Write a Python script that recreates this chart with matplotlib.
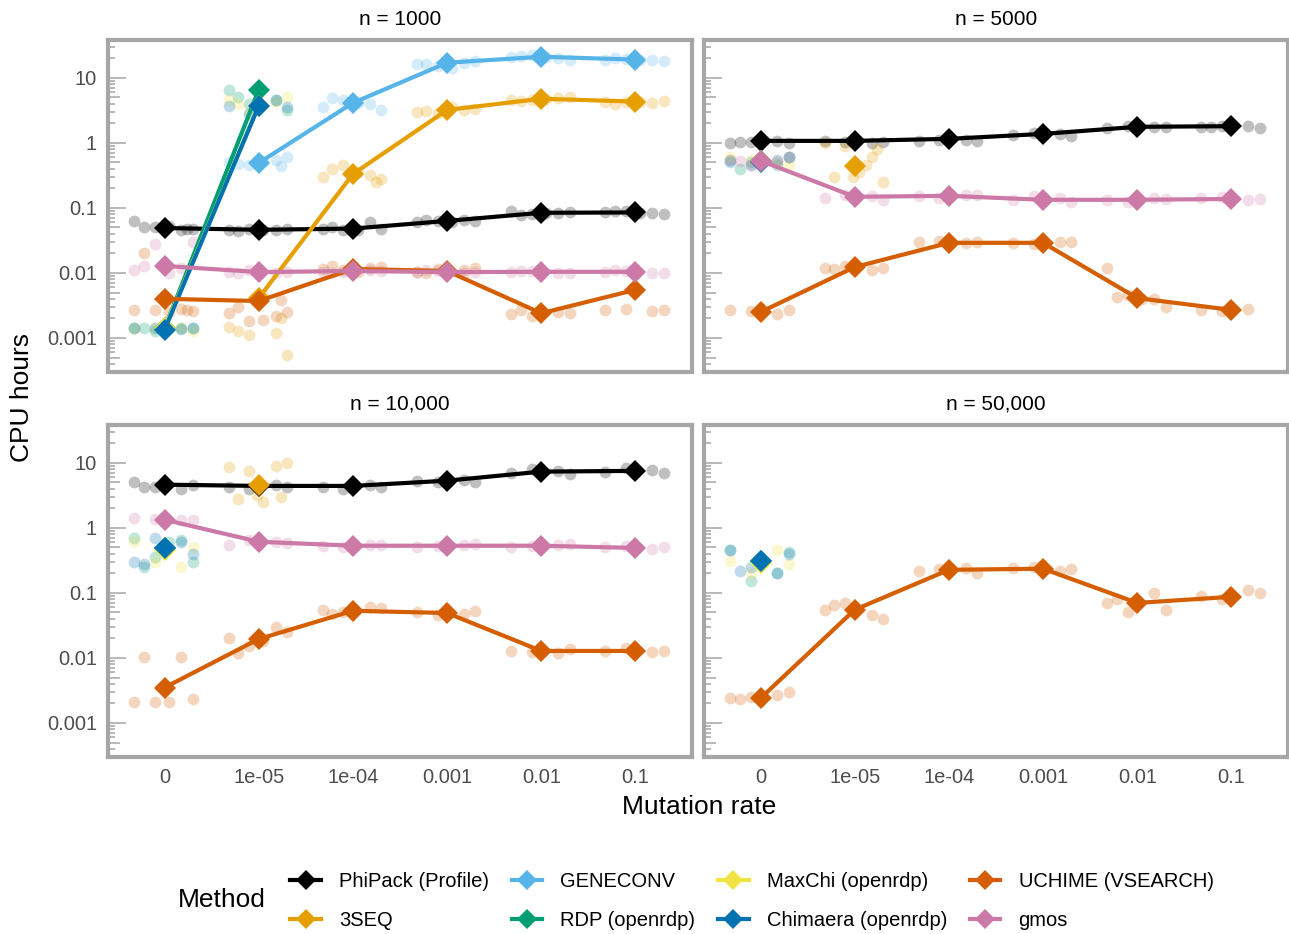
import matplotlib
matplotlib.use('Agg')
import matplotlib.pyplot as plt
from matplotlib.lines import Line2D
import numpy as np

plt.rcParams['font.family'] = ['Liberation Sans', 'DejaVu Sans']

RATES = ['0', '1e-05', '1e-04', '0.001', '0.01', '0.1']
METHODS = ['PhiPack (Profile)', '3SEQ', 'GENECONV', 'RDP (openrdp)',
           'MaxChi (openrdp)', 'Chimaera (openrdp)', 'UCHIME (VSEARCH)', 'gmos']
COLORS = ['#000000', '#E69F00', '#56B4E9', '#009E73',
          '#F0E442', '#0072B2', '#D55E00', '#CC79A7']
PANELS = ['n = 1000', 'n = 5000', 'n = 10,000', 'n = 50,000']

# medians (diamonds), one list of 6 per method, None = not run
MED_1000 = {
    'PhiPack (Profile)': [0.049, 0.046, 0.048, 0.063, 0.084, 0.085],
    '3SEQ': [None, 0.0041, 0.33, 3.2, 4.75, 4.3],
    'GENECONV': [None, 0.49, 4.1, 17, 21, 19],
    'RDP (openrdp)': [0.0014, 6.5, None, None, None, None],
    'MaxChi (openrdp)': [0.0014, 3.7, None, None, None, None],
    'Chimaera (openrdp)': [0.00133, 3.7, None, None, None, None],
    'UCHIME (VSEARCH)': [0.0040, 0.0037, 0.0115, 0.0107, 0.0024, 0.0055],
    'gmos': [0.0128, 0.0103, 0.0107, 0.0103, 0.0104, 0.0104],
}
MED_5000 = {
    'PhiPack (Profile)': [1.07, 1.07, 1.15, 1.37, 1.76, 1.8],
    '3SEQ': [None, 0.44, None, None, None, None],
    'RDP (openrdp)': [0.52, None, None, None, None, None],
    'MaxChi (openrdp)': [0.52, None, None, None, None, None],
    'Chimaera (openrdp)': [0.5, None, None, None, None, None],
    'UCHIME (VSEARCH)': [0.0025, 0.0123, 0.029, 0.029, 0.0041, 0.0027],
    'gmos': [0.53, 0.148, 0.153, 0.133, 0.133, 0.137],
}
MED_10000 = {
    'PhiPack (Profile)': [4.6, 4.4, 4.4, 5.3, 7.3, 7.5],
    '3SEQ': [None, 4.6, None, None, None, None],
    'RDP (openrdp)': [0.49, None, None, None, None, None],
    'MaxChi (openrdp)': [0.46, None, None, None, None, None],
    'Chimaera (openrdp)': [0.49, None, None, None, None, None],
    'UCHIME (VSEARCH)': [0.0035, 0.0195, 0.053, 0.049, 0.0128, 0.0128],
    'gmos': [1.33, 0.61, 0.53, 0.53, 0.53, 0.49],
}
MED_50000 = {
    'RDP (openrdp)': [0.31, None, None, None, None, None],
    'MaxChi (openrdp)': [0.29, None, None, None, None, None],
    'Chimaera (openrdp)': [0.31, None, None, None, None, None],
    'UCHIME (VSEARCH)': [0.0024, 0.055, 0.226, 0.235, 0.07, 0.087],
}

# replicate runs (jittered points)
PTS_1000 = {
    'PhiPack (Profile)': [[0.062, 0.045, 0.05, 0.048, 0.05, 0.052, 0.047],
                          [0.046, 0.045, 0.047, 0.048, 0.044, 0.046],
                          [0.048, 0.06, 0.046, 0.047, 0.05, 0.046],
                          [0.06, 0.065, 0.063, 0.062, 0.066, 0.06],
                          [0.09, 0.082, 0.08, 0.085, 0.078, 0.083],
                          [0.085, 0.083, 0.088, 0.08, 0.09, 0.084]],
    '3SEQ': [[],
             [0.0015, 0.0012, 0.0011, 0.00055, 0.0013, 0.0045, 0.002],
             [0.3, 0.32, 0.45, 0.28, 0.4, 0.35, 0.25],
             [3.0, 3.2, 2.9, 3.3, 3.1, 3.5],
             [4.5, 4.8, 4.6, 5.0, 4.4, 4.7],
             [4.3, 4.1, 4.2, 4.4, 4.0, 4.3]],
    'GENECONV': [[],
                 [0.5, 0.55, 0.45, 0.6, 0.48, 0.52, 0.44],
                 [3.5, 4.0, 4.5, 3.2, 4.8, 4.1],
                 [16, 17, 15, 18, 16.5, 14],
                 [21, 20, 22, 19, 21.5, 20.5],
                 [19, 18.5, 19.5, 18, 20, 18.8]],
    'RDP (openrdp)': [[0.0014, 0.0014, 0.0013, 0.0014, 0.0014],
                      [6.5, 4.5, 4.0, 3.2, 5.0], [], [], [], []],
    'MaxChi (openrdp)': [[0.0014, 0.0014, 0.0014, 0.0013],
                         [4.5, 4.2, 3.0, 5.0, 4.0], [], [], [], []],
    'Chimaera (openrdp)': [[0.0014, 0.00135, 0.0014, 0.0014],
                           [3.7, 4.5, 2.8, 3.5], [], [], [], []],
    'UCHIME (VSEARCH)': [[0.0027, 0.0028, 0.0027, 0.0026, 0.02, 0.0025, 0.0027],
                         [0.0024, 0.0022, 0.0018, 0.0025, 0.003, 0.0019, 0.0038],
                         [0.0115, 0.012, 0.011, 0.0125, 0.013, 0.0105],
                         [0.0105, 0.011, 0.0115, 0.012, 0.01],
                         [0.0023, 0.0025, 0.0022, 0.0024, 0.0027],
                         [0.0027, 0.0026, 0.0028, 0.0027]],
    'gmos': [[0.011, 0.012, 0.028, 0.03, 0.013, 0.01],
             [0.0105, 0.01, 0.011, 0.0102, 0.0098],
             [0.0105, 0.011, 0.0102, 0.0108, 0.01],
             [0.0103, 0.0098, 0.0108, 0.0102, 0.011],
             [0.0104, 0.0099, 0.0108, 0.0101, 0.0106],
             [0.0104, 0.0101, 0.0107, 0.0099, 0.011]],
}
PTS_5000 = {
    'PhiPack (Profile)': [[1.0, 1.05, 1.02, 1.0, 1.03],
                          [1.05, 1.0, 1.02, 1.03],
                          [1.05, 1.1, 1.12, 1.08],
                          [1.3, 1.35, 1.4, 1.25],
                          [1.7, 1.75, 1.8, 1.72],
                          [1.75, 1.8, 1.78, 1.7, 1.75]],
    '3SEQ': [[], [1.0, 0.6, 0.9, 0.25, 0.3, 0.35, 0.8, 0.3, 0.45], [], [], [], []],
    'RDP (openrdp)': [[0.55, 0.45, 0.5, 0.6, 0.4], [], [], [], [], []],
    'MaxChi (openrdp)': [[0.6, 0.5, 0.55, 0.45], [], [], [], [], []],
    'Chimaera (openrdp)': [[0.5, 0.55, 0.45, 0.6], [], [], [], [], []],
    'UCHIME (VSEARCH)': [[0.0027, 0.0023, 0.0026, 0.0027],
                         [0.012, 0.011, 0.013, 0.012, 0.0115],
                         [0.03, 0.029, 0.031, 0.03],
                         [0.029, 0.03, 0.028, 0.03],
                         [0.012, 0.004, 0.0045, 0.003, 0.0042, 0.004],
                         [0.0027, 0.0028, 0.0026]],
    'gmos': [[0.55, 0.5, 0.45, 0.6, 0.52],
             [0.14, 0.15, 0.16, 0.13],
             [0.15, 0.16, 0.14, 0.155],
             [0.13, 0.14, 0.15, 0.125],
             [0.13, 0.14, 0.125, 0.135],
             [0.14, 0.13, 0.145, 0.135]],
}
PTS_10000 = {
    'PhiPack (Profile)': [[5.0, 4.0, 4.3, 4.6, 4.2],
                          [4.2, 4.5, 4.0, 4.3],
                          [4.2, 4.5, 4.0, 4.3],
                          [5.2, 5.5, 5.0, 5.1],
                          [7.0, 7.5, 8.0, 6.8],
                          [7.3, 7.8, 8.2, 7.0]],
    '3SEQ': [[], [8.5, 9.0, 7.5, 9.8, 2.8, 2.5, 3.0, 3.2], [], [], [], []],
    'RDP (openrdp)': [[0.7, 0.65, 0.35, 0.3, 0.25, 0.6], [], [], [], [], []],
    'MaxChi (openrdp)': [[0.6, 0.25, 0.3, 0.5], [], [], [], [], []],
    'Chimaera (openrdp)': [[0.3, 0.6, 0.7, 0.4, 0.28], [], [], [], [], []],
    'UCHIME (VSEARCH)': [[0.0021, 0.0105, 0.0021, 0.0023, 0.0105, 0.0021],
                         [0.02, 0.03, 0.015, 0.025, 0.012, 0.018],
                         [0.055, 0.06, 0.05, 0.058, 0.048],
                         [0.05, 0.048, 0.046, 0.052],
                         [0.013, 0.012, 0.0125, 0.0135],
                         [0.013, 0.0125, 0.014, 0.0128]],
    'gmos': [[1.4, 1.3, 1.35, 1.33],
             [0.55, 0.6, 0.65, 0.58],
             [0.52, 0.55, 0.5, 0.54],
             [0.5, 0.55, 0.52, 0.56],
             [0.5, 0.55, 0.52, 0.56],
             [0.5, 0.48, 0.52, 0.5]],
}
PTS_50000 = {
    'RDP (openrdp)': [[0.45, 0.2, 0.15, 0.43], [], [], [], [], []],
    'MaxChi (openrdp)': [[0.31, 0.45, 0.2, 0.28], [], [], [], [], []],
    'Chimaera (openrdp)': [[0.45, 0.2, 0.25, 0.4, 0.22], [], [], [], [], []],
    'UCHIME (VSEARCH)': [[0.0024, 0.0027, 0.0025, 0.003, 0.0023],
                         [0.055, 0.045, 0.07, 0.04, 0.065],
                         [0.22, 0.24, 0.23, 0.2],
                         [0.24, 0.22, 0.25, 0.23],
                         [0.07, 0.1, 0.05, 0.055, 0.08],
                         [0.09, 0.11, 0.08, 0.1]],
}

JITTER = [-0.32, 0.18, -0.1, 0.3, -0.22, 0.05, 0.24, -0.02, 0.12, -0.28]
FRAME = '#a6a6a6'


def LogTicks(ax):
    # ggplot-style annotation_logticks on the left edge
    tr = ax.get_yaxis_transform()
    for e in range(-4, 2):
        for m in range(1, 10):
            v = m * 10.0 ** e
            if v < 3e-4 or v > 38:
                continue
            ln = 0.031 if m == 1 else (0.02 if m == 5 else 0.012)
            ax.plot([0, ln], [v, v], transform=tr, color='#b3b3b3', lw=1.3,
                    solid_capstyle='butt', zorder=1)


def DrawPanel(ax, title, med, pts, left, bottom):
    x = np.arange(len(RATES))
    for method, color in zip(METHODS, COLORS):
        if method not in pts:
            continue
        for i, vals in enumerate(pts[method]):
            xs = [i + JITTER[k % len(JITTER)] for k in range(len(vals))]
            ax.scatter(xs, vals, s=72, color=color, alpha=0.25, lw=0, zorder=2)
    for k, (method, color) in enumerate(zip(METHODS, COLORS)):
        if method not in med:
            continue
        m = med[method]
        xs = [i for i in x if m[i] is not None]
        ys = [m[i] for i in x if m[i] is not None]
        ax.plot(xs, ys, color=color, lw=3, zorder=3 + k * 0.1,
                solid_capstyle='round')
        ax.plot(xs, ys, 'D', color=color, ms=11, mew=0, zorder=3.05 + k * 0.1)
    ax.set_yscale('log')
    ax.set_ylim(3e-4, 38)
    ax.set_xlim(-0.6, 5.6)
    ax.set_xticks(x)
    ax.set_yticks([0.001, 0.01, 0.1, 1, 10])
    ax.minorticks_off()
    ax.tick_params(length=0, labelsize=14.5, labelcolor='#4d4d4d', pad=8)
    if left:
        ax.set_yticklabels(['0.001', '0.01', '0.1', '1', '10'])
    else:
        ax.set_yticklabels([])
    if bottom:
        ax.set_xticklabels(RATES)
    else:
        ax.set_xticklabels([])
    for sp in ax.spines.values():
        sp.set_color(FRAME)
        sp.set_linewidth(3)
    ax.set_title(title, fontsize=15, pad=11)
    LogTicks(ax)


fig = plt.figure(figsize=(12.89, 9.34), dpi=100)
W, H = 1289.0, 934.0
boxes = [(108, 40), (704, 40), (108, 425), (704, 425)]
meds = [MED_1000, MED_5000, MED_10000, MED_50000]
ptss = [PTS_1000, PTS_5000, PTS_10000, PTS_50000]
for j, ((px, py), title) in enumerate(zip(boxes, PANELS)):
    ax = fig.add_axes([px / W, 1 - (py + 332) / H, 584 / W, 332 / H])
    DrawPanel(ax, title, meds[j], ptss[j], j % 2 == 0, j >= 2)

fig.text(699 / W, 1 - 807 / H, 'Mutation rate', fontsize=19, ha='center', va='center')
fig.text(22 / W, 1 - 398 / H, 'CPU hours', fontsize=19, rotation=90,
         ha='center', va='center')

handles = [Line2D([0], [0], color=c, lw=3, marker='D', ms=10, mew=0) for c in COLORS]
fig.legend(handles, METHODS, ncol=4, loc='center', bbox_to_anchor=(752 / W, 1 - 901 / H),
           frameon=False, fontsize=14.5, handlelength=1.5, columnspacing=1.15,
           labelspacing=1.0, handletextpad=0.9)
fig.text(222 / W, 1 - 900 / H, 'Method', fontsize=19, ha='center', va='center')

fig.savefig('out.png', dpi=100)
